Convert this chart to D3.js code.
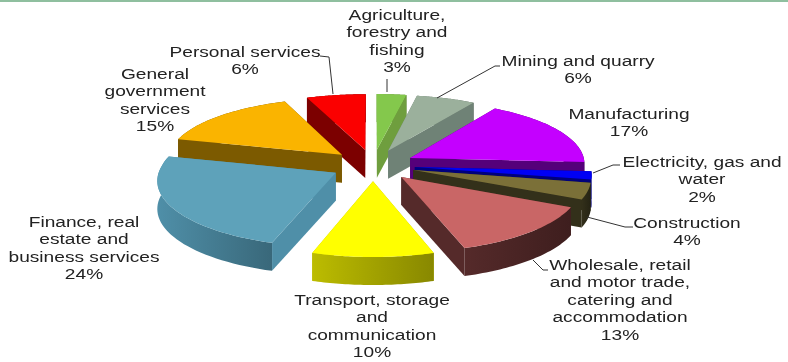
<!DOCTYPE html>
<html>
<head>
<meta charset="utf-8">
<script src="https://cdn.jsdelivr.net/npm/d3@7"></script>
<style>
html, body { margin: 0; padding: 0; background: #fff; }
svg { display: block; filter: blur(0.4px); }
text { font-family: "Liberation Sans", Arial, sans-serif; font-size: 15.5px; fill: #222; text-anchor: middle; }
</style>
</head>
<body>
<div id="chart"></div>
<script>
const sectors = ["Agriculture, forestry and fishing", "Mining and quarry", "Manufacturing", "Electricity, gas and water", "Construction", "Wholesale, retail and motor trade, catering and accommodation", "Transport, storage and communication", "Finance, real estate and business services", "General government services", "Personal services"];
const shares = [3, 6, 17, 2, 4, 13, 10, 24, 15, 6];
const topColors = ["#84c84c", "#9bb09c", "#c400ff", "#0000f5", "#7b7038", "#c96666", "#ffff00", "#5ea2ba", "#fab400", "#fb0000"];
const sideColors = ["#6f9e3e", "#6f8276", "#55007a", "#00007c", "#33301a", "#552a2a", "#bcbc00", "#4f8fa8", "#7c5a00", "#7c0000"];

// wrapped label lines and their placement, same order as sectors
const labelLines = [
	["Agriculture,", "forestry and", "fishing", "3%"],
	["Mining and quarry", "6%"],
	["Manufacturing", "17%"],
	["Electricity, gas and", "water", "2%"],
	["Construction", "4%"],
	["Wholesale, retail", "and motor trade,", "catering and", "accommodation", "13%"],
	["Transport, storage", "and", "communication", "10%"],
	["Finance, real", "estate and", "business services", "24%"],
	["General", "government", "services", "15%"],
	["Personal services", "6%"]
];
const labelX = [397, 578, 629, 702, 687, 620, 372, 84, 155, 245];
const labelY = [20, 66, 119, 167, 228, 270, 305, 227, 79, 57];
const leaders = [
	[[387, 79], [387, 92]],
	[[500, 66], [495, 66], [437, 98]],
	null,
	[[620, 165], [613, 165], [593, 173]],
	[[633, 227], [625, 227], [587, 217]],
	[[548, 270], [543, 270], [533, 260]],
	null, null, null,
	[[320, 56], [329, 57], [333, 94]]
];

const width = 788, height = 362;
const cx = 373, cy = 165;
const radius = 175, explode = 42, depth = 28;
const tilt = 0.3755, persp = 0.126, perspBackX = 0.09, persRange = 212;
const textStretch = 1.235, lineGap = 17.4;

const svg = d3.select("#chart").append("svg")
	.attr("width", width)
	.attr("height", height);

svg.append("rect")
	.attr("width", width)
	.attr("height", 2)
	.attr("fill", "#8fbf9f");

const defs = svg.append("defs");
const line = d3.line();

function project(u, v, z) {
	let s = 1 + persp * v / persRange;
	let sx = 1 + (v < 0 ? perspBackX : persp) * v / persRange;
	return [cx + u * sx, cy + tilt * v * s + z];
}

function rim(d, a) {
	return [d.ox + radius * Math.sin(a), d.oy - radius * Math.cos(a)];
}

const slices = d3.pie().sort(null)(shares).map(d => {
	let mid = (d.startAngle + d.endAngle) / 2;
	d.mid = mid;
	d.ox = explode * Math.sin(mid);
	d.oy = -explode * Math.cos(mid);
	return d;
});

slices.forEach(d => {
	let grad = defs.append("linearGradient").attr("id", "wall" + d.index);
	grad.append("stop").attr("offset", 0).attr("stop-color", sideColors[d.index]);
	grad.append("stop").attr("offset", 1).attr("stop-color", d3.color(sideColors[d.index]).darker(0.9));
});

function drawSlice(d) {
	let g = svg.append("g");
	let steps = d3.range(0, 41).map(i => d.startAngle + (d.endAngle - d.startAngle) * i / 40);
	let arcPts = steps.map(a => rim(d, a));

	let wall = (pts, fill) => {
		let poly = pts.map(p => project(p[0], p[1], 0)).concat(pts.slice().reverse().map(p => project(p[0], p[1], depth)));
		return { v: d3.mean(pts, p => p[1]), poly, fill };
	};
	let apex = [d.ox, d.oy];
	let walls = [
		wall([apex, arcPts[0]], sideColors[d.index]),
		wall([apex, arcPts[40]], sideColors[d.index]),
		wall(arcPts, "url(#wall" + d.index + ")")
	].sort((a, b) => a.v - b.v);

	walls.forEach(w => {
		g.append("path").attr("d", line(w.poly) + "Z").attr("fill", w.fill);
	});

	let top = [apex].concat(arcPts).map(p => project(p[0], p[1], 0));
	g.append("path").attr("d", line(top) + "Z").attr("fill", topColors[d.index]);
}

// paint from the back of the pie to the front
slices.slice().sort((a, b) => Math.cos(b.mid) - Math.cos(a.mid)).forEach(drawSlice);

leaders.forEach(pts => {
	if (!pts) return;
	svg.append("path")
		.attr("d", line(pts))
		.attr("fill", "none")
		.attr("stroke", "#333")
		.attr("stroke-width", 1);
});

labelLines.forEach((lines, i) => {
	lines.forEach((t, j) => {
		svg.append("text")
			.attr("transform", "translate(" + labelX[i] + "," + (labelY[i] + j * lineGap) + ") scale(" + textStretch + ",1)")
			.text(t);
	});
});
</script>
</body>
</html>
